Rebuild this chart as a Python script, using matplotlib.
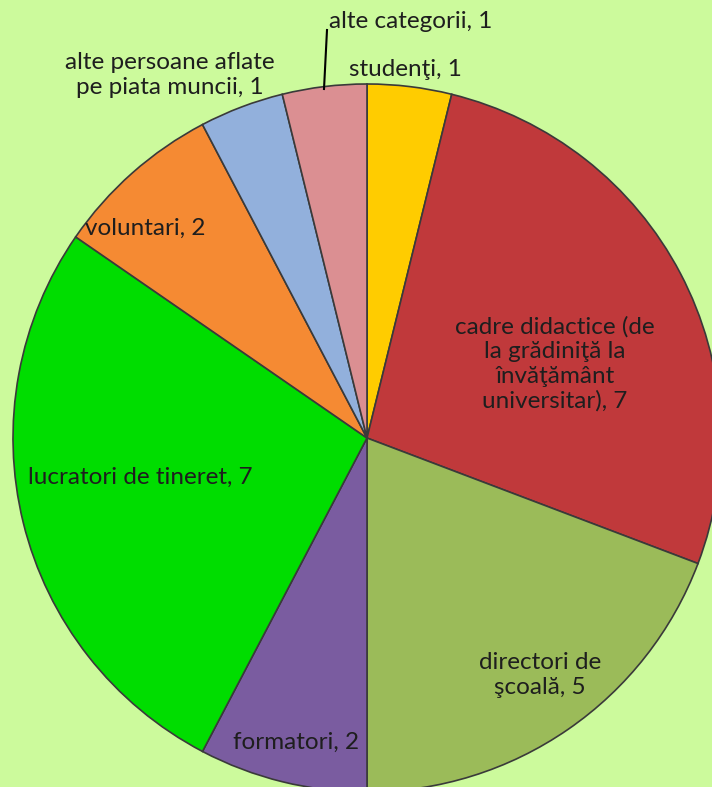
import matplotlib.pyplot as plt

# data (clockwise from 12 o'clock)
categories = ["studenţi", "cadre didactice (de\nla grădiniţă la\nînvăţământ\nuniversitar)",
              "directori de\nşcoală", "formatori", "lucratori de tineret", "voluntari",
              "alte persoane aflate\npe piata muncii", "alte categorii"]
counts = [1, 7, 5, 2, 7, 2, 1, 1]
colors = ["#FFCC00", "#C0393B", "#9BBB59", "#7A5CA0", "#00DD00", "#F58A33", "#92B0DC", "#DB8F92"]

# label anchor points (pixels, y from top) for each slice
label_pos = [(405, 70), (555, 364), (540, 675), (296, 742), (140, 477), (145, 228), (170, 75), (411, 22)]

W, H = 712, 787
fig = plt.figure(figsize=(W / 100, H / 100), dpi=100)
fig.patch.set_facecolor("#CCFA9C")
ax = fig.add_axes([0, 0, 1, 1])
ax.set_facecolor("#CCFA9C")

wedges, _ = ax.pie(counts, colors=colors, startangle=90, counterclock=False,
                   radius=354, center=(367, H - 438), frame=True,
                   wedgeprops=dict(edgecolor="#3a3a3a", linewidth=1.2))

ax.set_xlim(0, W)
ax.set_ylim(0, H)
ax.set_aspect("equal")
ax.axis("off")

for name, val, (x, y) in zip(categories, counts, label_pos):
    ax.text(x, H - y, f"{name}, {val}", ha="center", va="center", fontsize=17.5,
            family=["Lato", "DejaVu Sans"], color="#1e1e1e", linespacing=1.2)

# leader line for the small "alte categorii" slice
ax.plot([327, 324], [H - 30, H - 89], color="black", lw=1.5)

fig.savefig("out.png", dpi=100, facecolor=fig.get_facecolor())
